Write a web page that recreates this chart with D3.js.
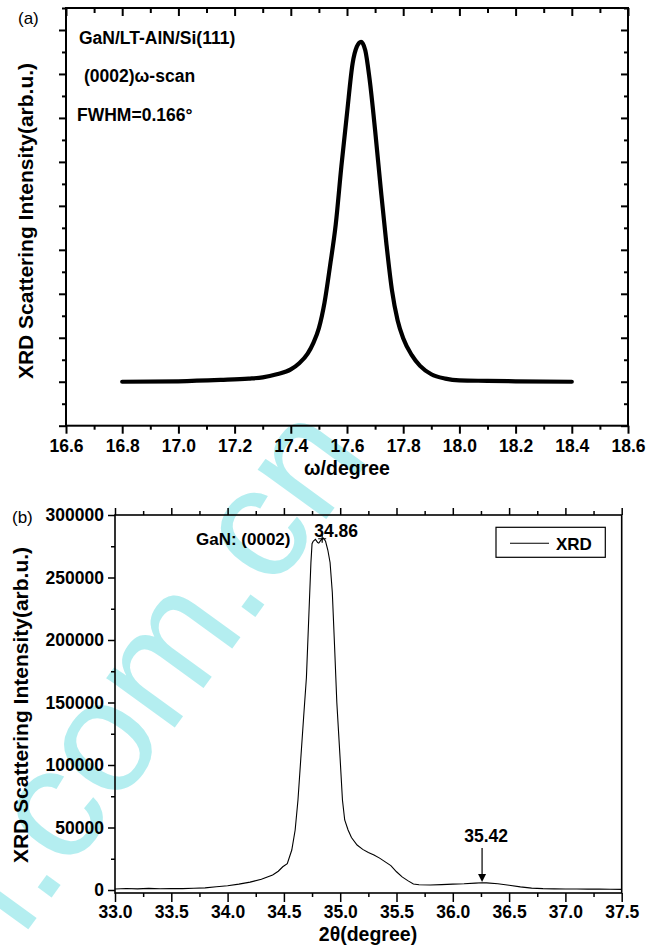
<!DOCTYPE html>
<html><head><meta charset="utf-8">
<script src="https://cdn.jsdelivr.net/npm/d3@7"></script>
<style>
body{margin:0;background:#fff;}
svg{display:block;font-family:"Liberation Sans",Arial,sans-serif;}
</style></head>
<body><svg id="c" width="663" height="952"></svg>
<script>
// ---- Panel (a): omega scan ----
const omega = [16.80,17.00,17.15,17.25,17.30,17.35,17.40,17.43,17.46,17.48,17.50,17.52,17.54,17.56,17.58,17.60,17.62,17.635,17.65,17.665,17.68,17.70,17.72,17.74,17.76,17.78,17.80,17.83,17.86,17.90,17.95,18.00,18.10,18.20,18.40];
const omegaI = [1.00,1.01,1.04,1.07,1.10,1.17,1.28,1.42,1.64,1.88,2.22,2.80,3.65,4.58,5.90,7.10,8.24,8.62,8.73,8.54,7.90,6.72,5.40,4.15,3.08,2.40,1.99,1.61,1.36,1.17,1.07,1.03,1.02,1.01,1.00];
const omegaTicks = ["16.6","16.8","17.0","17.2","17.4","17.6","17.8","18.0","18.2","18.4","18.6"];
const aTexts = ["GaN/LT-AlN/Si(111)","(0002)\u03c9-scan","FWHM=0.166\u00b0"];

// ---- Panel (b): 2theta scan ----
const twoTheta = [33.00,33.10,33.20,33.30,33.40,33.50,33.60,33.70,33.80,33.90,34.00,34.10,34.20,34.30,34.40,34.45,34.49,34.53,34.57,34.60,34.625,34.65,34.675,34.70,34.72,34.74,34.75,34.76,34.78,34.80,34.81,34.83,34.85,34.87,34.89,34.91,34.93,34.95,34.97,35.00,35.02,35.04,35.07,35.10,35.15,35.20,35.25,35.30,35.35,35.40,35.45,35.50,35.55,35.60,35.65,35.70,35.80,35.90,36.00,36.10,36.20,36.26,36.30,36.40,36.50,36.60,36.70,36.80,36.90,37.00,37.10,37.20,37.30,37.40,37.50];
const xrdI = [800,1200,900,1300,1000,1200,1100,1400,1700,2600,3400,4700,6300,8600,12000,15000,18600,21000,32000,48000,72000,105000,138000,170000,216000,262000,277000,279000,280500,278000,277500,280000,281500,279000,272000,262000,238000,195000,150000,104000,72000,56000,48000,42000,36000,32500,30000,28000,25500,22500,19500,14600,10500,7500,4800,4200,4000,4300,4700,5000,5500,5800,5700,5000,3800,2500,1500,1100,900,800,800,700,700,600,500];
const thetaTicks = [33.0,33.5,34.0,34.5,35.0,35.5,36.0,36.5,37.0,37.5];
const intensityTicks = [0,50000,100000,150000,200000,250000,300000];
const peakLabels = [{t:"34.86",x:34.84,y:281000},{t:"35.42",x:36.26,y:5800}];

const svg = d3.select("#c");
const FONT = "'Liberation Sans',Arial,sans-serif";

// watermark (drawn first, behind)
svg.append("text")
  .attr("transform","translate(22,938) rotate(-54)")
  .attr("font-size",160).attr("fill","#b4eef0")
  .attr("font-family",FONT)
  .text("i.com.cn");

// ===== Panel (a) =====
const ax = d3.scaleLinear().domain([16.6,18.6]).range([66,628]);
const ay = d3.scaleLinear().domain([0,9.5]).range([425.7,8]);
const ga = svg.append("g");

function styleAxis(g, w){
  g.selectAll(".domain").remove();
  g.selectAll("line").attr("stroke","#000").attr("stroke-width",w);
}
const aMajorX = d3.range(0,11).map(i=>16.6+i*0.2);
const aMinorX = d3.range(0,10).map(i=>16.7+i*0.2);
// bottom
ga.append("g").attr("transform","translate(0,425.7)")
  .call(d3.axisBottom(ax).tickValues(aMajorX).tickSize(8).tickPadding(6).tickFormat((d,i)=>omegaTicks[i]))
  .call(g=>{styleAxis(g,2);g.selectAll("text").attr("font-size",17.5).attr("font-weight","bold").attr("font-family",FONT).attr("fill","#000");});
ga.append("g").attr("transform","translate(0,425.7)")
  .call(d3.axisBottom(ax).tickValues(aMinorX).tickSize(4).tickFormat(""))
  .call(g=>styleAxis(g,2));
// top (inward)
ga.append("g").attr("transform","translate(0,8)")
  .call(d3.axisBottom(ax).tickValues(aMajorX).tickSize(8).tickFormat(""))
  .call(g=>styleAxis(g,2));
ga.append("g").attr("transform","translate(0,8)")
  .call(d3.axisBottom(ax).tickValues(aMinorX).tickSize(5).tickFormat(""))
  .call(g=>styleAxis(g,2));
// left outward
const aMajorY = d3.range(0,10);
const aMinorY = d3.range(0,10).map(i=>i+0.5);
ga.append("g").attr("transform","translate(66,0)")
  .call(d3.axisLeft(ay).tickValues(aMajorY).tickSize(7).tickFormat(""))
  .call(g=>styleAxis(g,2));
ga.append("g").attr("transform","translate(66,0)")
  .call(d3.axisLeft(ay).tickValues(aMinorY).tickSize(4).tickFormat(""))
  .call(g=>styleAxis(g,2));
// right inward
ga.append("g").attr("transform","translate(628,0)")
  .call(d3.axisLeft(ay).tickValues(aMajorY).tickSize(7).tickFormat(""))
  .call(g=>styleAxis(g,2));
ga.append("g").attr("transform","translate(628,0)")
  .call(d3.axisLeft(ay).tickValues(aMinorY).tickSize(4).tickFormat(""))
  .call(g=>styleAxis(g,2));
ga.append("rect").attr("x",66).attr("y",8).attr("width",562).attr("height",417.7)
  .attr("fill","none").attr("stroke","#000").attr("stroke-width",2);

ga.append("path").datum(omega.map((d,i)=>[d,omegaI[i]]))
  .attr("fill","none").attr("stroke","#000").attr("stroke-width",4.2)
  .attr("stroke-linejoin","round").attr("stroke-linecap","round")
  .attr("d",d3.line().x(d=>ax(d[0])).y(d=>ay(d[1])).curve(d3.curveMonotoneX));

ga.selectAll("text.info").data(aTexts).join("text").attr("class","info")
  .attr("x",(d,i)=>[79,84,77][i]).attr("y",(d,i)=>[43.5,81.5,120.7][i])
  .attr("font-size",17.5).attr("font-weight","bold").attr("font-family",FONT)
  .text(d=>d);
ga.append("text").attr("x",18).attr("y",24).attr("font-size",17).attr("font-family",FONT).text("(a)");
ga.append("text").attr("x",347).attr("y",475).attr("text-anchor","middle")
  .attr("font-size",19.5).attr("font-weight","bold").attr("font-family",FONT).text("\u03c9/degree");
ga.append("text").attr("transform","translate(33,221) rotate(-90)").attr("text-anchor","middle")
  .attr("font-size",21).attr("font-weight","bold").attr("font-family",FONT)
  .text("XRD Scattering Intensity(arb.u.)");

// ===== Panel (b) =====
const bx = d3.scaleLinear().domain([33.0,37.5]).range([115,621.7]);
const by = d3.scaleLinear().domain([-2400,300000]).range([893,515]);
const gb = svg.append("g");
const bMinorX = d3.range(0,9).map(i=>33.25+i*0.5);
gb.append("g").attr("transform","translate(0,893)")
  .call(d3.axisBottom(bx).tickValues(thetaTicks).tickSize(9).tickPadding(4).tickFormat(d3.format(".1f")))
  .call(g=>{styleAxis(g,1.5);g.selectAll("text").attr("font-size",17.5).attr("font-weight","bold").attr("font-family",FONT).attr("fill","#000");});
gb.append("g").attr("transform","translate(0,893)")
  .call(d3.axisBottom(bx).tickValues(bMinorX).tickSize(4).tickFormat(""))
  .call(g=>styleAxis(g,1.5));
gb.append("g").attr("transform","translate(0,515)")
  .call(d3.axisTop(bx).tickValues(thetaTicks).tickSize(7).tickFormat(""))
  .call(g=>styleAxis(g,1.5));
gb.append("g").attr("transform","translate(0,515)")
  .call(d3.axisTop(bx).tickValues(bMinorX).tickSize(4).tickFormat(""))
  .call(g=>styleAxis(g,1.5));
gb.append("g").attr("transform","translate(115,0)")
  .call(d3.axisLeft(by).tickValues(intensityTicks).tickSize(7).tickPadding(4).tickFormat(d3.format("d")))
  .call(g=>{styleAxis(g,1.5);g.selectAll("text").attr("font-size",17.5).attr("font-weight","bold").attr("font-family",FONT).attr("fill","#000");});
gb.append("g").attr("transform","translate(115,0)")
  .call(d3.axisLeft(by).tickValues(d3.range(25000,300000,50000)).tickSize(4).tickFormat(""))
  .call(g=>styleAxis(g,1.5));
gb.append("rect").attr("x",115).attr("y",515).attr("width",506.7).attr("height",378)
  .attr("fill","none").attr("stroke","#000").attr("stroke-width",1.6);

gb.append("path").datum(twoTheta.map((d,i)=>[d,xrdI[i]]))
  .attr("fill","none").attr("stroke","#000").attr("stroke-width",1.1)
  .attr("d",d3.line().x(d=>bx(d[0])).y(d=>by(d[1])));

// peak marker & labels
const p0 = peakLabels[0];
gb.append("path").attr("d",`M${bx(p0.x)-4},${by(p0.y)}h8M${bx(p0.x)},${by(p0.y)-4}v8`).attr("stroke","#000").attr("stroke-width",1.2);
gb.append("text").attr("x",bx(p0.x)+14).attr("y",537).attr("text-anchor","middle")
  .attr("font-size",17.5).attr("font-weight","bold").attr("font-family",FONT).text(p0.t);
gb.append("text").attr("x",196).attr("y",545)
  .attr("font-size",17).attr("font-weight","bold").attr("font-family",FONT).text("GaN: (0002)");
const p1 = peakLabels[1];
gb.append("text").attr("x",bx(p1.x)+4).attr("y",842).attr("text-anchor","middle")
  .attr("font-size",17.5).attr("font-weight","bold").attr("font-family",FONT).text(p1.t);
gb.append("line").attr("x1",bx(p1.x)).attr("x2",bx(p1.x)).attr("y1",848).attr("y2",876).attr("stroke","#000").attr("stroke-width",1.2);
gb.append("path").attr("d",`M${bx(p1.x)-4},${874}L${bx(p1.x)+4},874L${bx(p1.x)},882Z`).attr("fill","#000");

// legend
gb.append("rect").attr("x",496).attr("y",527.3).attr("width",109.3).attr("height",30).attr("fill","#fff").attr("stroke","#000").attr("stroke-width",1.2);
gb.append("line").attr("x1",510).attr("x2",549).attr("y1",543.3).attr("y2",543.3).attr("stroke","#000").attr("stroke-width",1.1);
gb.append("text").attr("x",556).attr("y",549.5).attr("font-size",17).attr("font-weight","bold").attr("font-family",FONT).text("XRD");

gb.append("text").attr("x",12).attr("y",523).attr("font-size",17).attr("font-family",FONT).text("(b)");
gb.append("text").attr("x",368).attr("y",941).attr("text-anchor","middle")
  .attr("font-size",19.5).attr("font-weight","bold").attr("font-family",FONT).text("2\u03b8(degree)");
gb.append("text").attr("transform","translate(28,705) rotate(-90)").attr("text-anchor","middle")
  .attr("font-size",21).attr("font-weight","bold").attr("font-family",FONT)
  .text("XRD Scattering Intensity(arb.u.)");
</script>
</body></html>
